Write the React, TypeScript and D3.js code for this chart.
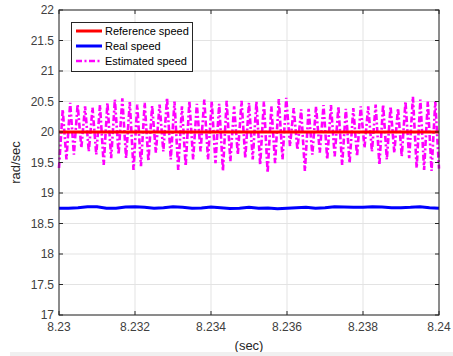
import React from "react";
import * as d3 from "d3";

const W = 453;
const H = 356;
const xTicks = [8.23, 8.232, 8.234, 8.236, 8.238, 8.24];
const yTicks = [17, 17.5, 18, 18.5, 19, 19.5, 20, 20.5, 21, 21.5, 22];

const refSpeed = [20, 20];
const refTimes = [8.23, 8.24];

const realSpeed = [
  18.75, 18.75, 18.76, 18.775, 18.775, 18.75, 18.75, 18.77, 18.775, 18.765,
  18.75, 18.76, 18.775, 18.765, 18.75, 18.755, 18.77, 18.76, 18.745, 18.75,
  18.765, 18.75, 18.755, 18.74, 18.75, 18.76, 18.765, 18.75, 18.76, 18.775,
  18.77, 18.765, 18.765, 18.775, 18.77, 18.76, 18.76, 18.765, 18.775, 18.76, 18.75,
];

const estPeaks = [
  20.37, 20.48, 20.45, 20.42, 20.4, 20.44, 20.48, 20.53, 20.55, 20.49, 20.45, 20.48, 20.43,
  20.45, 20.56, 20.5, 20.42, 20.51, 20.46, 20.53, 20.5, 20.46, 20.51, 20.42, 20.51, 20.48,
  20.5, 20.5, 20.42, 20.54, 20.56, 20.39, 20.37, 20.38, 20.42, 20.44, 20.44, 20.42, 20.38,
  20.39, 20.42, 20.42, 20.45, 20.45, 20.42, 20.39, 20.5, 20.58, 20.53, 20.5, 20.5,
];
const estTroughs = [
  19.41, 19.55, 19.63, 19.74, 19.68, 19.63, 19.46, 19.57, 19.63, 19.57, 19.38, 19.44, 19.52,
  19.66, 19.68, 19.55, 19.38, 19.44, 19.55, 19.68, 19.55, 19.49, 19.36, 19.52, 19.63, 19.57,
  19.55, 19.46, 19.33, 19.49, 19.55, 19.77, 19.71, 19.36, 19.63, 19.66, 19.55, 19.6, 19.46,
  19.49, 19.6, 19.74, 19.68, 19.46, 19.55, 19.66, 19.6, 19.57, 19.41, 19.38, 19.36, 19.4,
];

const legendLabels = ["Reference speed", "Real speed", "Estimated speed"];
const colors = ["#ff0000", "#0000ff", "#ff00ff"];

const FONT = "'Liberation Sans', Arial, Helvetica, sans-serif";

export default function App() {
  const left = 59, right = 439, top = 10, bottom = 315;
  const x = d3.scaleLinear().domain([8.23, 8.24]).range([left, right]);
  const y = d3.scaleLinear().domain([17, 22]).range([bottom, top]);

  const realTimes = realSpeed.map((_, i) => 8.23 + (0.01 * i) / (realSpeed.length - 1));
  const estVals: number[] = [];
  for (let i = 0; i < estTroughs.length; i++) {
    estVals.push(estTroughs[i]);
    if (i < estPeaks.length) estVals.push(estPeaks[i]);
  }
  const estTimes = estVals.map((_, i) => 8.23 + (0.01 * i) / (estVals.length - 1));

  const line = d3
    .line<[number, number]>()
    .x((d) => x(d[0]))
    .y((d) => y(d[1]));

  const refPath = line(refTimes.map((t, i) => [t, refSpeed[i]]))!;
  const realPath = line(realTimes.map((t, i) => [t, realSpeed[i]]))!;
  const estPath = line(estTimes.map((t, i) => [t, estVals[i]]))!;

  const axisColor = "#262626";
  const gridColor = "#e3e3e3";
  const tickLen = 4;

  return (
    <svg
      width={W}
      height={H}
      style={{ position: "absolute", left: 0, top: 0, background: "#fff" }}
      fontFamily={FONT}
    >
      <rect x={0} y={0} width={W} height={H} fill="#fff" />
      {xTicks.map((t) => (
        <line key={"gx" + t} x1={x(t)} x2={x(t)} y1={top} y2={bottom} stroke={gridColor} strokeWidth={1} />
      ))}
      {yTicks.map((t) => (
        <line key={"gy" + t} x1={left} x2={right} y1={y(t)} y2={y(t)} stroke={gridColor} strokeWidth={1} />
      ))}
      <path d={realPath} fill="none" stroke={colors[1]} strokeWidth={3} />
      <path
        d={estPath}
        fill="none"
        stroke={colors[2]}
        strokeWidth={2.6}
        strokeDasharray="6,2.5,2,2.5"
      />
      <path d={refPath} fill="none" stroke={colors[0]} strokeWidth={3} />
      <rect x={left} y={top} width={right - left} height={bottom - top} fill="none" stroke={axisColor} strokeWidth={1} />
      {xTicks.map((t) => (
        <g key={"tx" + t}>
          <line x1={x(t)} x2={x(t)} y1={bottom} y2={bottom - tickLen} stroke={axisColor} />
          <line x1={x(t)} x2={x(t)} y1={top} y2={top + tickLen} stroke={axisColor} />
          <text x={x(t)} y={bottom + 16} textAnchor="middle" fontSize={12} fill="#404040">
            {String(t)}
          </text>
        </g>
      ))}
      {yTicks.map((t) => (
        <g key={"ty" + t}>
          <line x1={left} x2={left + tickLen} y1={y(t)} y2={y(t)} stroke={axisColor} />
          <line x1={right} x2={right - tickLen} y1={y(t)} y2={y(t)} stroke={axisColor} />
          <text x={left - 5} y={y(t) + 4} textAnchor="end" fontSize={12} fill="#404040">
            {String(t)}
          </text>
        </g>
      ))}
      <text
        transform={`translate(20,${(top + bottom) / 2}) rotate(-90)`}
        textAnchor="middle"
        fontSize={13}
        fill="#262626"
      >
        rad/sec
      </text>
      <text x={(left + right) / 2} y={350} textAnchor="middle" fontSize={13} fill="#262626">
        (sec)
      </text>
      <rect x={71.5} y={22.5} width={121} height={49} fill="#fff" stroke={axisColor} strokeWidth={1} />
      {legendLabels.map((lab, i) => {
        const ly = 31 + i * 15;
        return (
          <g key={lab}>
            <line
              x1={76}
              x2={102}
              y1={ly}
              y2={ly}
              stroke={colors[i]}
              strokeWidth={i === 2 ? 2.6 : 3}
              strokeDasharray={i === 2 ? "6,2.5,2,2.5" : undefined}
            />
            <text x={105} y={ly + 4} fontSize={11} fill="#000">
              {lab}
            </text>
          </g>
        );
      })}
      <rect x={10} y={352} width={W - 10} height={4} fill="#f0f0f0" />
    </svg>
  );
}
